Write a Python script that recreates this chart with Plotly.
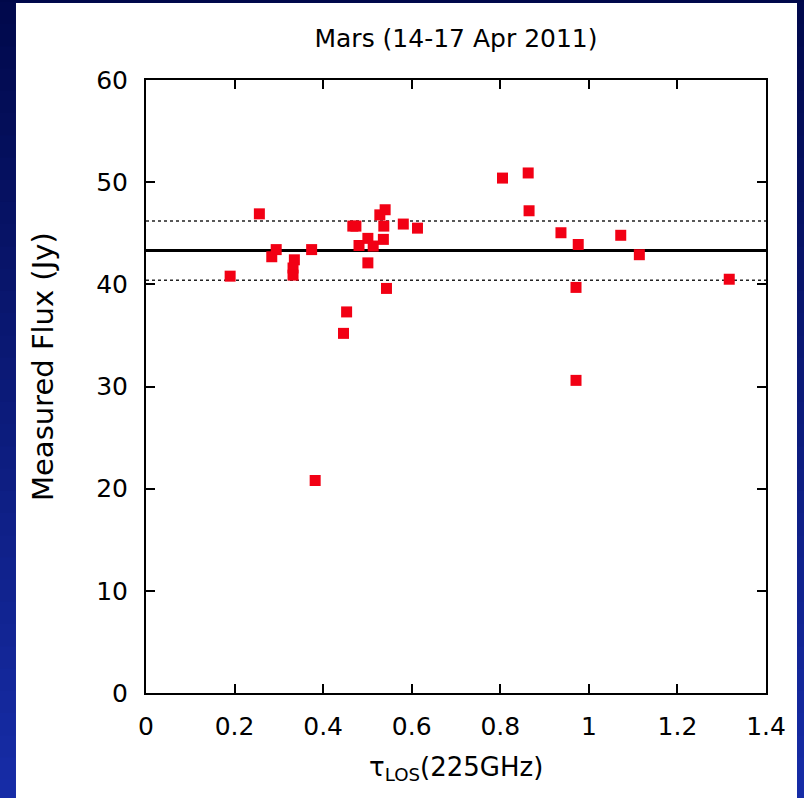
import plotly.graph_objects as go

# ---- data ----
tau_los = [0.190, 0.256, 0.284, 0.294, 0.335, 0.332, 0.332, 0.374, 0.382, 0.446,
           0.453, 0.467, 0.474, 0.481, 0.501, 0.501, 0.513, 0.528, 0.540, 0.537,
           0.536, 0.543, 0.581, 0.613, 0.805, 0.863, 0.865, 0.937, 0.976, 0.971,
           0.971, 1.072, 1.114, 1.317]
flux_jy = [40.8, 46.9, 42.7, 43.4, 42.4, 41.6, 40.9, 43.4, 20.8, 35.2,
           37.3, 45.7, 45.7, 43.8, 44.5, 42.1, 43.75, 46.8, 47.3, 45.7,
           44.4, 39.6, 45.9, 45.5, 50.4, 50.9, 47.2, 45.05, 43.9, 39.7,
           30.6, 44.8, 42.9, 40.5]
mean_flux = 43.3
sigma_flux = 2.9
x_range = [0, 1.4]
y_range = [0, 60]
x_ticks = [0, 0.2, 0.4, 0.6, 0.8, 1, 1.2, 1.4]
x_tick_labels = ["0", "0.2", "0.4", "0.6", "0.8", "1", "1.2", "1.4"]
y_ticks = [0, 10, 20, 30, 40, 50, 60]
y_tick_labels = ["0", "10", "20", "30", "40", "50", "60"]
title_text = "Mars (14-17 Apr 2011)"
x_title = "τ<sub>LOS</sub>(225GHz)"
y_title = "Measured Flux (Jy)"

FONT = "DejaVu Sans"

fig = go.Figure()

# mean and +/- sigma lines
for yv in (mean_flux + sigma_flux, mean_flux - sigma_flux):
    fig.add_trace(go.Scatter(x=x_range, y=[yv, yv], mode="lines",
                             line=dict(color="#222222", width=1.3, dash="dot"),
                             showlegend=False, hoverinfo="skip"))
fig.add_trace(go.Scatter(x=x_range, y=[mean_flux, mean_flux], mode="lines",
                         line=dict(color="black", width=3),
                         showlegend=False, hoverinfo="skip"))
# measurements
fig.add_trace(go.Scatter(x=tau_los, y=flux_jy, mode="markers",
                         marker=dict(symbol="square", size=11, color="#f20014",
                                     line=dict(width=0)),
                         showlegend=False))

# background gradient bands + white panel
shapes = []
n = 40
top = (0, 8, 72)
bot = (24, 46, 172)
span_top, span_bot = 1.2, -0.25
step = (span_top - span_bot) / n
for i in range(n):
    f = i / (n - 1)
    c = tuple(int(top[k] + (bot[k] - top[k]) * f) for k in range(3))
    y1 = span_top - step * i
    y0 = y1 - step * 1.6
    shapes.append(dict(type="rect", xref="paper", yref="paper", x0=-0.3, x1=1.1,
                       y0=y0, y1=y1, fillcolor="rgb(%d,%d,%d)" % c,
                       line=dict(width=0), layer="below"))
shapes.append(dict(type="rect", xref="paper", yref="paper", x0=-0.2097, x1=1.0500,
                   y0=-0.25, y1=1.1256, fillcolor="white", line=dict(width=0),
                   layer="below"))
fig.update_layout(shapes=shapes)

fig.update_layout(
    width=804, height=798, autosize=False,
    margin=dict(l=146, r=38, t=80, b=105, pad=0),
    paper_bgcolor="#00084a", plot_bgcolor="rgba(0,0,0,0)",
    title=dict(text=title_text, x=0.5, xref="paper", y=1 - 38 / 798,
               yref="container", xanchor="center", yanchor="middle",
               font=dict(family=FONT, size=25, color="black")),
    xaxis=dict(range=x_range, tickvals=x_ticks, ticktext=x_tick_labels,
               ticks="inside", ticklen=9, tickwidth=1.5, tickcolor="black",
               showline=True, linecolor="black", linewidth=2, mirror="ticks",
               showgrid=False, zeroline=False, ticklabelstandoff=10,
               tickfont=dict(family=FONT, size=25, color="black")),
    yaxis=dict(range=y_range, tickvals=y_ticks, ticktext=y_tick_labels,
               ticks="inside", ticklen=9, tickwidth=1.5, tickcolor="black",
               showline=True, linecolor="black", linewidth=2, mirror="ticks",
               showgrid=False, zeroline=False, ticklabelstandoff=11,
               tickfont=dict(family=FONT, size=25, color="black")),
    annotations=[
        dict(text=x_title, xref="paper", yref="paper", x=0.5, y=(693 - 768) / 613,
             xanchor="center", yanchor="middle", showarrow=False,
             font=dict(family=FONT, size=26, color="black")),
        dict(text=y_title, xref="paper", yref="paper", x=(43 - 146) / 620,
             y=(693 - 367) / 613, xanchor="center", yanchor="middle",
             textangle=-90, showarrow=False,
             font=dict(family=FONT, size=29, color="black")),
    ],
)

fig.write_html("out.html")
